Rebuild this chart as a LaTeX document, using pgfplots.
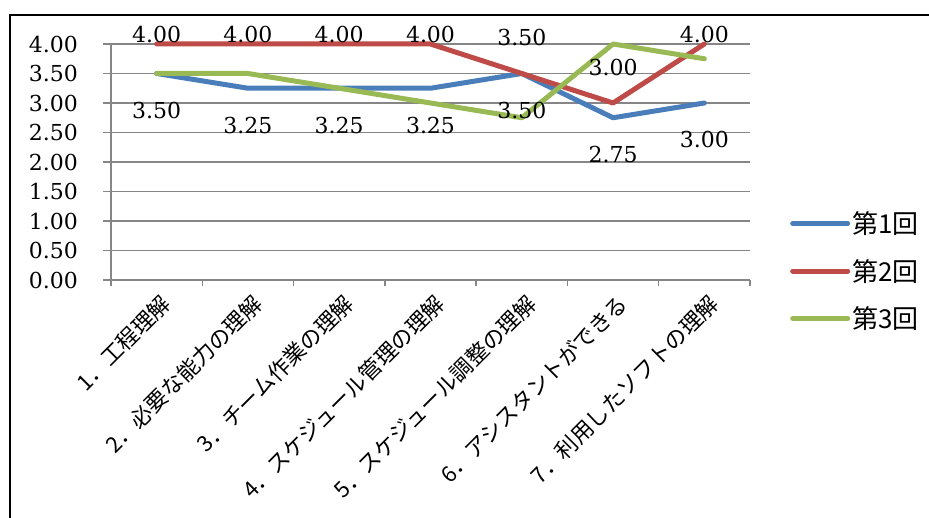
\documentclass[border=0pt]{standalone}
\usepackage{fontspec}
\setmainfont{DejaVu Serif}
\newfontfamily\jp{Noto Sans CJK JP}
\usepackage{pgfplots}
\pgfplotsset{compat=1.18}
\usepackage{pgfplotstable}

\definecolor{s1}{HTML}{4A7EBB}
\definecolor{s2}{HTML}{BE4B48}
\definecolor{s3}{HTML}{98B954}
\definecolor{gridc}{HTML}{868686}

\pgfplotstableread{
x s1 s2 s3 d2
1 3.50 4.00 3.50 -1.5
2 3.25 4.00 3.50 -1.5
3 3.25 4.00 3.25 -1.5
4 3.25 4.00 3.00 -1.5
5 3.50 3.50 2.75 25
6 2.75 3.00 4.00 25
7 3.00 4.00 3.75 -1.5
}\data

\begin{document}
\begin{tikzpicture}[x=1pt,y=1pt]
\path[use as bounding box] (0,0) rectangle (929,518);
\draw[line width=2pt] (10,0) -- (10,503) -- (929,503);
\begin{axis}[
  at={(111pt,238pt)}, anchor=south west,
  scale only axis, width=639pt, height=236pt,
  xmin=0.5, xmax=7.5, ymin=0, ymax=4,
  axis lines*=left,
  axis line style={gridc, line width=1.5pt, -},
  ymajorgrids, major grid style={gridc, line width=1.5pt},
  ytick={0,0.5,...,4},
  yticklabel={\pgfmathprintnumber[fixed,fixed zerofill,precision=2,assume math mode=true]{\tick}},
  tick align=outside,
  major tick length=8pt,
  minor tick length=6pt,
  tick style={gridc, line width=1.5pt},
  major x tick style={draw=none},
  xtick={1,...,7},
  minor xtick={0.5,1.5,...,7.5},
  xticklabels={1．工程理解, 2．必要な能力の理解, 3．チーム作業の理解, 4．スケジュール管理の理解, 5．スケジュール調整の理解, 6．アシスタントができる, 7．利用したソフトの理解},
  x tick label style={rotate=45, anchor=north east, inner sep=0pt, font=\jp\fontsize{22}{22}\selectfont, yshift=-5pt, xshift=-1pt},
  y tick label style={anchor=east, inner sep=0pt, xshift=-25pt, font=\fontsize{22}{22}\selectfont},
  clip=false,
  legend style={at={(1.0626,0.038)}, anchor=west, draw=none, fill=none, inner sep=0pt,
    font=\jp\fontsize{26}{26}\selectfont, row sep=20pt, cells={anchor=west}},
  legend image code/.code={\draw[#1,line width=5pt,line cap=round] (0pt,0pt) -- (55pt,0pt);},
  every axis plot/.append style={line width=5pt, line cap=round, line join=round},
]
\addplot[s1, nodes near coords={\pgfmathprintnumber[fixed,fixed zerofill,precision=2,assume math mode=true]{\pgfplotspointmeta}},
  every node near coord/.append style={anchor=north, yshift=-26pt, inner sep=0pt, text=black, font=\fontsize{22}{22}\selectfont}]
  table[x=x,y=s1]{\data};
\addlegendentry{第1回}
\addplot[s2, visualization depends on={\thisrow{d2} \as \dtwo},
  nodes near coords={\pgfmathprintnumber[fixed,fixed zerofill,precision=2,assume math mode=true]{\pgfplotspointmeta}},
  every node near coord/.append style={anchor=south, yshift=\dtwo pt, inner sep=0pt, text=black, font=\fontsize{22}{22}\selectfont}]
  table[x=x,y=s2]{\data};
\addlegendentry{第2回}
\addplot[s3] table[x=x,y=s3]{\data};
\addlegendentry{第3回}
\end{axis}
\end{tikzpicture}
\end{document}
